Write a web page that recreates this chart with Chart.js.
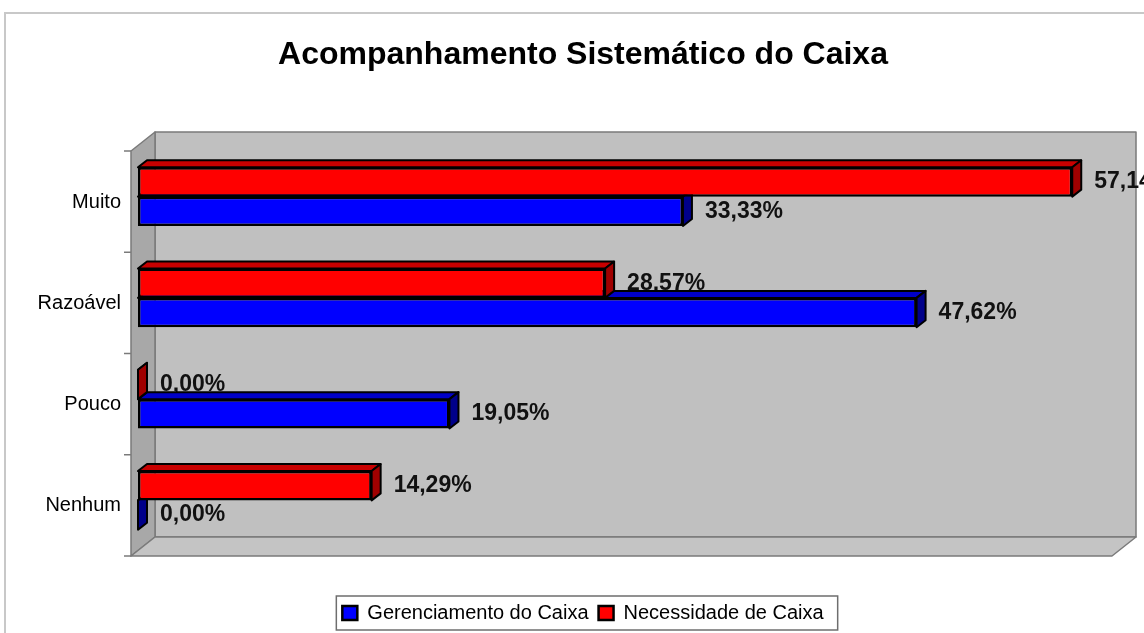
<!DOCTYPE html>
<html lang="pt">
<head>
<meta charset="utf-8">
<title>Acompanhamento Sistemático do Caixa</title>
<script src="https://cdn.jsdelivr.net/npm/chart.js@4.4.1/dist/chart.umd.min.js"></script>
<style>
  html, body { margin: 0; padding: 0; background: #fff; overflow: hidden; }
  canvas { display: block; }
</style>
</head>
<body>
<canvas id="chart" width="1166" height="645"></canvas>
<script>
// Dados
const categories = ['Muito', 'Razoável', 'Pouco', 'Nenhum'];
const gerenciamento = [33.33, 47.62, 19.05, 0.00];
const necessidade = [57.14, 28.57, 0.00, 14.29];
const axisMin = 0;
const axisMax = 60;

const FONT = "'Liberation Sans', Arial, Helvetica, sans-serif";
const WALL_DX = 24, WALL_DY = 19;   // profundidade das paredes (efeito 3D)
const BAR_DX = 9, BAR_DY = 7;       // profundidade das barras
const SHIFT_X = 7, SHIFT_Y = 5;     // barras ficam um pouco para dentro do piso

const pct = (v) => v.toFixed(2).replace('.', ',') + '%';

function poly(ctx, pts, fill, stroke, lw) {
  ctx.beginPath();
  ctx.moveTo(pts[0][0], pts[0][1]);
  for (let i = 1; i < pts.length; i++) ctx.lineTo(pts[i][0], pts[i][1]);
  ctx.closePath();
  if (fill) { ctx.fillStyle = fill; ctx.fill(); }
  if (stroke) { ctx.strokeStyle = stroke; ctx.lineWidth = lw || 1; ctx.stroke(); }
}

function barRects(chart) {
  const out = [];
  chart.data.datasets.forEach((ds, i) => {
    const meta = chart.getDatasetMeta(i);
    meta.data.forEach((el, j) => {
      const p = el.getProps(['x', 'y', 'base', 'height'], true);
      out.push({
        ds, value: ds.data[j],
        x0: Math.min(p.base, p.x), x1: Math.max(p.base, p.x),
        y0: p.y - p.height / 2, y1: p.y + p.height / 2, cy: p.y,
      });
    });
  });
  return out;
}

const box3d = {
  id: 'box3d',
  beforeDraw(chart) {
    const { ctx } = chart;
    ctx.save();
    ctx.strokeStyle = '#c8c8c8';
    ctx.lineWidth = 2;
    ctx.strokeRect(5, 13, 1156, 626);
    ctx.restore();
  },
  beforeDatasetsDraw(chart) {
    const { ctx, chartArea: a, scales } = chart;
    const fl = a.left - SHIFT_X, fr = fl + (a.right - a.left);
    const ft = a.top + SHIFT_Y, fb = a.bottom + SHIFT_Y;
    const bl = fl + WALL_DX, br = fr + WALL_DX, bt = ft - WALL_DY, bb = fb - WALL_DY;
    ctx.save();
    ctx.lineJoin = 'round';
    // parede do fundo, parede lateral e piso
    poly(ctx, [[bl, bt], [br, bt], [br, bb], [bl, bb]], '#c0c0c0', '#7a7a7a', 1.5);
    poly(ctx, [[fl, ft], [bl, bt], [bl, bb], [fl, fb]], '#a8a8a8', '#7a7a7a', 1.5);
    poly(ctx, [[fl, fb], [bl, bb], [br, bb], [fr, fb]], '#c4c4c4', '#7a7a7a', 1.5);
    // marcas do eixo das categorias
    ctx.strokeStyle = '#7a7a7a';
    ctx.lineWidth = 1.5;
    for (let k = 0; k <= categories.length; k++) {
      const y = scales.y.getPixelForValue(k - 0.5) + SHIFT_Y;
      ctx.beginPath();
      ctx.moveTo(fl - 7, y);
      ctx.lineTo(fl, y);
      ctx.stroke();
    }

    const bars = barRects(chart);
    // rótulos (ficam atrás das faces das barras, como no original)
    ctx.fillStyle = '#111';
    ctx.font = `bold 23px ${FONT}`;
    ctx.textAlign = 'left';
    ctx.textBaseline = 'middle';
    bars.forEach((b) => ctx.fillText(pct(b.value), b.x1 + 22, b.cy));

    // faces de cima, depois faces laterais
    bars.forEach((b) => poly(ctx, [[b.x0, b.y0], [b.x1, b.y0], [b.x1 + BAR_DX, b.y0 - BAR_DY], [b.x0 + BAR_DX, b.y0 - BAR_DY]], b.ds.topColor, '#000', 2));
    bars.forEach((b) => poly(ctx, [[b.x1, b.y0], [b.x1 + BAR_DX, b.y0 - BAR_DY], [b.x1 + BAR_DX, b.y1 - BAR_DY], [b.x1, b.y1]], b.ds.sideColor, '#000', 2));
    ctx.restore();
  },
  afterDraw(chart) {
    const lg = chart.legend;
    if (!lg || !lg.legendHitBoxes.length) return;
    const hb = lg.legendHitBoxes;
    const left = Math.min(...hb.map((h) => h.left)) - 6;
    const right = Math.max(...hb.map((h) => h.left + h.width)) + 14;
    const cy = hb[0].top + hb[0].height / 2;
    const { ctx } = chart;
    ctx.save();
    ctx.strokeStyle = '#6e6e6e';
    ctx.lineWidth = 1.5;
    ctx.strokeRect(left, cy - 17, right - left, 34);
    ctx.restore();
  },
};

new Chart(document.getElementById('chart'), {
  type: 'bar',
  data: {
    labels: categories,
    datasets: [
      { label: 'Necessidade de Caixa', data: necessidade, backgroundColor: '#ff0000', topColor: '#c80000', sideColor: '#a00000' },
      { label: 'Gerenciamento do Caixa', data: gerenciamento, backgroundColor: '#0000ff', topColor: '#0000c8', sideColor: '#00008a' },
    ],
  },
  options: {
    indexAxis: 'y',
    responsive: false,
    animation: false,
    layout: { padding: { left: 0, right: 0, top: 0, bottom: 12 } },
    datasets: {
      bar: { borderColor: '#000', borderWidth: 2.5, borderSkipped: false, categoryPercentage: 0.58, barPercentage: 1 },
    },
    scales: {
      y: {
        type: 'category',
        offset: true,
        grid: { display: false, drawTicks: false },
        border: { display: false },
        ticks: { color: '#000', padding: 17, labelOffset: 5.5, font: { size: 20, family: FONT } },
        afterFit: (s) => { s.width = 138; },
      },
      x: {
        type: 'linear',
        min: axisMin,
        max: axisMax,
        grid: { display: false, drawTicks: false },
        border: { display: false },
        ticks: { display: false },
        afterFit: (s) => { s.height = 42; },
      },
      yRight: {
        type: 'linear',
        position: 'right',
        grid: { display: false, drawTicks: false },
        border: { display: false },
        ticks: { display: false },
        afterFit: (s) => { s.width = 47; },
      },
    },
    plugins: {
      title: {
        display: true,
        text: 'Acompanhamento Sistemático do Caixa',
        color: '#000',
        font: { size: 32, weight: 'bold', family: FONT, lineHeight: 1.2 },
        padding: { top: 36, bottom: 71.6 },
      },
      legend: {
        position: 'bottom',
        reverse: true,
        labels: { color: '#000', boxWidth: 15, boxHeight: 14, padding: 10, font: { size: 20, family: FONT } },
      },
      tooltip: { enabled: false },
    },
  },
  plugins: [box3d],
});
</script>
</body>
</html>
